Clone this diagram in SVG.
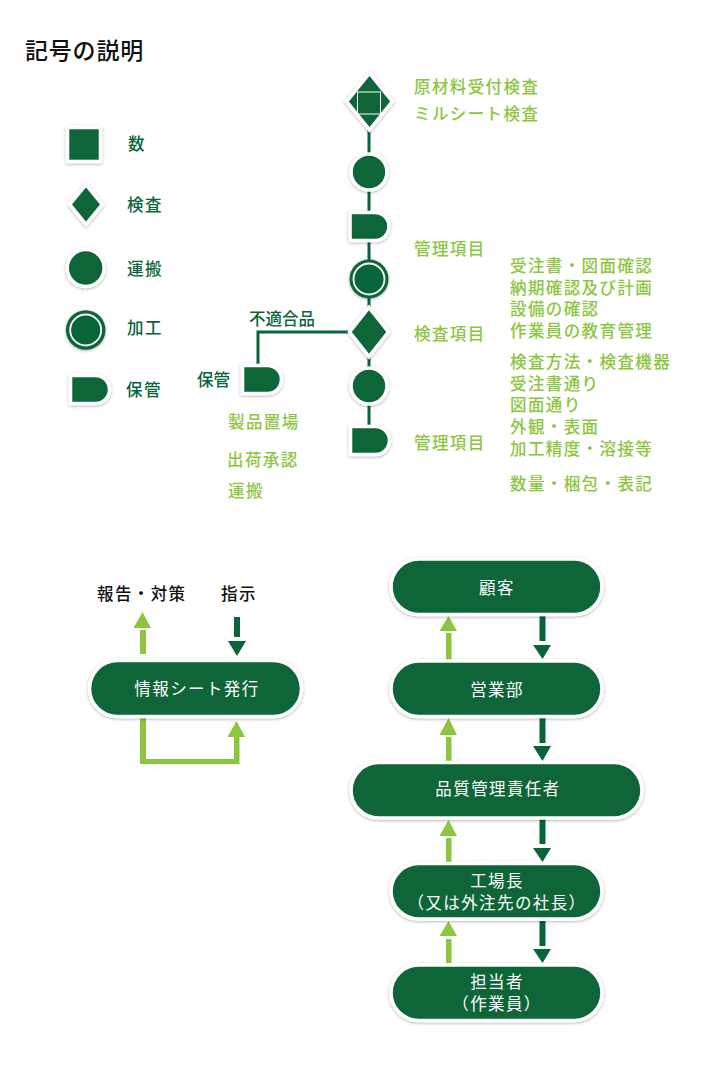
<svg xmlns="http://www.w3.org/2000/svg" width="720" height="1085" viewBox="0 0 720 1085">
<defs>
<filter id="sh" x="-30%" y="-30%" width="160%" height="170%"><feDropShadow dx="0" dy="1" stdDeviation="1.5" flood-color="#000" flood-opacity="0.3"/></filter>
<path id="dshape" d="M0 0H25A14 14 0 0 1 25 28H0Z"/>
</defs>
<style>
text{font-family:"Noto Sans CJK JP","Noto Sans",sans-serif;font-size:16.5px;letter-spacing:1.4px;font-weight:500}
.l{fill:#8cc63f}
.d{fill:#086539}
.k{fill:#111}
.w{fill:#fff;text-anchor:middle;font-weight:400}
.s{fill:#086539;stroke:#fff;stroke-width:3.6;filter:url(#sh)}
.ln{fill:none;stroke:#086539;stroke-width:3}
.lg{fill:#8cc63f}
.dk{fill:#086539}
</style>
<rect width="720" height="1085" fill="#fff"/>
<text x="25" y="59" style="font-size:23px;letter-spacing:0.8px" class="k">記号の説明</text>

<g id="connectors">
<path class="ln" d="M369 128V160M369 185V215M369 236V262M369 296V314M369 350V372M369 400V430"/>
<path class="ln" d="M351 332H258V368"/>
<path class="lg" d="M140 654V630H146V654ZM142.500 612L151 628H133.500Z"/>
<path class="dk" d="M234 617H240V637H234ZM228 641H246L237 656Z"/>
<path class="lg" d="M140 718H146V759H234V737H239.500V764H140ZM236.500 721L245 737H227.500Z"/>
<path class="lg" d="M446 633H451.500V660H446ZM448.500 616L457 631H439.500Z"/>
<path class="dk" d="M539.500 616H545.500V641H539.500ZM533 645H551L542.500 659Z"/>
<path class="lg" d="M446 737H451.500V761H446ZM448.500 718L457 735H439.500Z"/>
<path class="dk" d="M539.500 718H545.500V743H539.500ZM533 746H551L542.500 761Z"/>
<path class="lg" d="M446 838H451.500V862H446ZM448.500 820L457 836H439.500Z"/>
<path class="dk" d="M539.500 819H545.500V844H539.500ZM533 848H551L542.500 862Z"/>
<path class="lg" d="M446 939H451.500V963H446ZM448.500 921L457 936H439.500Z"/>
<path class="dk" d="M539.500 921H545.500V946H539.500ZM533 949H551L542.500 963Z"/>
</g>

<g id="legend-square"><rect class="s" x="67.500" y="127.500" width="33" height="34"/><text class="d" x="128" y="150">数</text></g>
<g id="legend-diamond"><path class="s" d="M86 184.500L102.400 204.500L86 224.500L69.600 204.500Z"/><text class="d" x="127" y="211">検査</text></g>
<g id="legend-circle"><circle class="s" cx="85.700" cy="268" r="18.500"/><text class="d" x="127" y="275">運搬</text></g>
<g id="legend-process"><circle cx="85.700" cy="330" r="19.800" fill="#086539" filter="url(#sh)"/><circle cx="85.700" cy="330" r="15.500" fill="#086539" stroke="#fff" stroke-width="1.800"/><text class="d" x="127" y="334">加工</text></g>
<g id="legend-store"><use href="#dshape" class="s" x="70.500" y="375.500"/><text class="d" x="126" y="396">保管</text></g>

<g id="n-inspect1"><path class="s" d="M369.500 73L392.500 101.500L369.500 130L346.500 101.500Z"/><rect x="357.500" y="92" width="23" height="22" fill="none" stroke="#fff" stroke-width="1"/></g>
<g id="n-circle1"><circle class="s" cx="369" cy="172" r="18"/></g>
<g id="n-store1"><use href="#dshape" class="s" x="350" y="212.500"/></g>
<g id="n-process"><circle cx="369" cy="279" r="19.500" fill="#086539" filter="url(#sh)"/><circle cx="369" cy="279" r="15.500" fill="#086539" stroke="#fff" stroke-width="1.800"/></g>
<g id="n-inspect2"><path class="s" d="M369 307.500L388.400 332L369 356.500L349.600 332Z"/></g>
<g id="n-circle2"><circle class="s" cx="369" cy="386" r="18"/></g>
<g id="n-store2"><use href="#dshape" class="s" x="350.500" y="426.500"/></g>
<g id="n-store3"><use href="#dshape" class="s" x="242.500" y="365.500"/></g>

<g id="labels">
<text class="l" x="414" y="93">原材料受付検査</text>
<text class="l" x="414" y="120">ミルシート検査</text>
<text class="l" x="414" y="255">管理項目</text>
<text class="l" x="510" y="272">受注書・図面確認</text>
<text class="l" x="510" y="293.700">納期確認及び計画</text>
<text class="l" x="510" y="315.400">設備の確認</text>
<text class="l" x="510" y="337">作業員の教育管理</text>
<text class="l" x="414" y="340">検査項目</text>
<text class="l" x="510" y="368">検査方法・検査機器</text>
<text class="l" x="510" y="389.700">受注書通り</text>
<text class="l" x="510" y="411.400">図面通り</text>
<text class="l" x="510" y="433">外観・表面</text>
<text class="l" x="510" y="454.700">加工精度・溶接等</text>
<text class="l" x="510" y="490">数量・梱包・表記</text>
<text class="l" x="414" y="449">管理項目</text>
<text class="l" x="228" y="428">製品置場</text>
<text class="l" x="227" y="466">出荷承認</text>
<text class="l" x="228" y="497">運搬</text>
<text class="d" x="197" y="386" style="letter-spacing:0">保管</text>
<text class="d" x="249" y="325" style="letter-spacing:0">不適合品</text>
<text class="k" x="97" y="600">報告・対策</text>
<text class="k" x="221" y="600">指示</text>
</g>

<g id="n-sheet"><rect class="s" x="89.500" y="660.500" width="212" height="56" rx="28"/><text class="w" x="197" y="695">情報シート発行</text></g>
<g id="n-customer"><rect class="s" x="391" y="559" width="211" height="55.500" rx="27.750"/><text class="w" x="497" y="594">顧客</text></g>
<g id="n-sales"><rect class="s" x="391" y="661" width="211" height="55.500" rx="27.750"/><text class="w" x="497" y="696">営業部</text></g>
<g id="n-quality"><rect class="s" x="351" y="762.500" width="291" height="55.500" rx="27.750"/><text class="w" x="498" y="795">品質管理責任者</text></g>
<g id="n-factory"><rect class="s" x="391" y="863.500" width="211" height="55.500" rx="27.750"/><text class="w" x="497" y="887">工場長</text><text class="w" x="497" y="909">（又は外注先の社長）</text></g>
<g id="n-worker"><rect class="s" x="391" y="965" width="211" height="55.500" rx="27.750"/><text class="w" x="497" y="988">担当者</text><text class="w" x="497" y="1010">（作業員）</text></g>
</svg>
